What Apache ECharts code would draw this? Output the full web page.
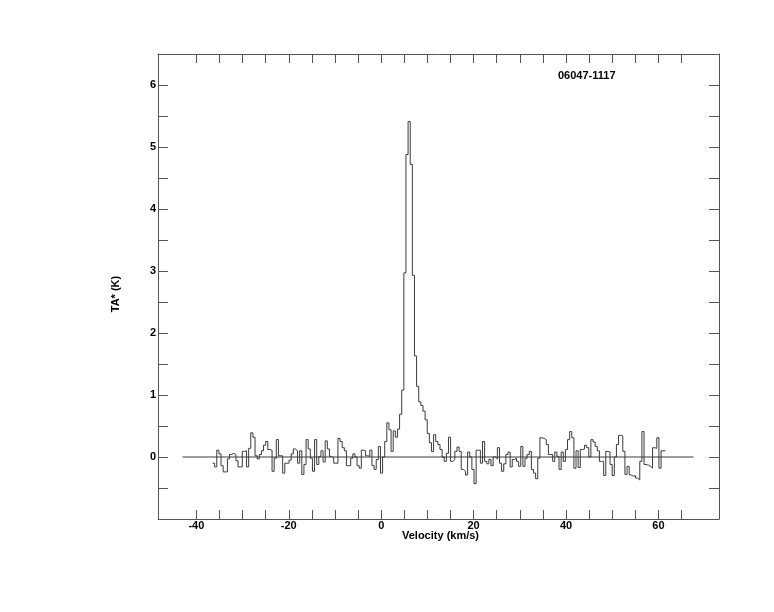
<!DOCTYPE html>
<html>
<head>
<meta charset="utf-8">
<script src="https://cdn.jsdelivr.net/npm/echarts@6/dist/echarts.min.js"></script>
<style>
html,body{margin:0;padding:0;background:#fff;}
#chart{width:774px;height:612px;}
</style>
</head>
<body>
<div id="chart"></div>
<script>
// ---- data ----
const sourceName = "06047-1117";
const xTitle = "Velocity (km/s)";
const yTitle = "TA* (K)";
const velStart = -36.5;      // left edge of first channel (km/s)
const chanWidth = 0.46;      // channel width (km/s)
const taValues = [
  -0.1, -0.16, 0.11, 0.05, -0.14, -0.24, -0.24, -0.03, 0.04, 0.06,
  0.04, -0.06, -0.16, -0.16, 0.09, 0.1, -0.16, 0.14, 0.39, 0.32,
  0.02, -0.03, 0.04, 0.1, 0.19, 0.25, 0.12, 0.11, -0.23, -0.02,
  0.28, 0.02, 0.02, -0.26, -0.1, -0.1, -0.05, 0.05, 0.13, 0.1,
  -0.1, 0.1, -0.28, -0.12, 0.28, 0.13, -0.02, -0.23, 0.28, -0.12,
  0.01, 0.1, -0.08, 0.26, 0.13, 0.01, -0.01, -0.1, -0.1, 0.3,
  0.25, 0.15, 0.1, -0.14, -0.14, -0.02, 0.05, 0.0, -0.14, -0.18,
  0.11, 0.1, 0.02, 0.01, 0.11, -0.14, -0.2, -0.04, 0.17, -0.26,
  0.0, 0.25, 0.55, 0.44, 0.09, 0.42, 0.32, 0.45, 0.69, 1.08,
  2.97, 4.88, 5.41, 4.72, 2.93, 1.63, 1.14, 0.89, 0.83, 0.74,
  0.6, 0.38, 0.23, 0.09, 0.36, 0.25, 0.2, 0.12, 0.0, -0.07,
  0.06, 0.32, -0.07, -0.04, 0.09, 0.16, 0.09, -0.2, -0.23,
  -0.29, 0.08, 0.0, -0.2, -0.43, 0.11, 0.11, -0.1, 0.25, -0.07,
  -0.11, -0.04, -0.14, 0.0, -0.03, 0.15, -0.1, -0.23, -0.11,
  0.04, 0.08, -0.16, -0.04,
  -0.02, -0.07, -0.15, 0.17,
  -0.15, -0.02, 0.04, 0.09, -0.2, -0.26, -0.35, -0.02, 0.31, 0.3,
  0.28, 0.2, 0.04, 0.04, -0.07, 0.08, 0.01, -0.2, 0.08,
  -0.07, 0.12, 0.28, 0.41, 0.31, -0.18, 0.1, -0.17, 0.12, 0.13,
  0.19, 0.15, 0.0, 0.28, 0.24, 0.17, 0.1, -0.07, -0.07,
  -0.3, 0.09, 0.08, -0.12, -0.3, 0.0, 0.2, 0.35, 0.34,
  0.09, -0.28, -0.15, -0.29, -0.31, -0.3, -0.34, -0.37, -0.07,
  0.41, -0.12, -0.13, -0.15, -0.18, 0.15, 0.14, 0.31, -0.18, 0.1, 0.1
];
const baselineX = [-43, 67.6];
const xRange = [-48.3, 73.1];
const yRange = [-1, 6.5];
const xTickValues = [-40,-35,-30,-25,-20,-15,-10,-5,0,5,10,15,20,25,30,35,40,45,50,55,60,65];
const xLabelValues = [-40,-20,0,20,40,60];
const yTickValues = [-0.5,0,0.5,1,1.5,2,2.5,3,3.5,4,4.5,5,5.5,6];
const yLabelValues = [0,1,2,3,4,5,6];

// ---- build step data (channel edges) ----
const stepData = taValues.map((v, i) => [velStart + i * chanWidth, v]);
stepData.push([velStart + taValues.length * chanWidth, taValues[taValues.length - 1]]);
const baseData = baselineX.map(x => [x, 0]);

const FONT = 'Liberation Sans, Arial, sans-serif';
const frameColor = '#555';
const lineColor = '#3a3a3a';

function xAxisDef(pos, labels) {
  return {
    type: 'value', position: pos, min: xRange[0], max: xRange[1],
    axisLine: { show: true, onZero: false, lineStyle: { color: frameColor, width: 1 } },
    axisTick: { show: true, inside: true, length: 9, customValues: xTickValues, lineStyle: { color: frameColor } },
    axisLabel: labels ? { show: true, customValues: xLabelValues, margin: 1, color: '#000', fontFamily: FONT, fontWeight: 'bold', fontSize: 11 } : { show: false },
    splitLine: { show: false }
  };
}
function yAxisDef(pos, labels) {
  return {
    type: 'value', position: pos, min: yRange[0], max: yRange[1],
    axisLine: { show: true, onZero: false, lineStyle: { color: frameColor, width: 1 } },
    axisTick: { show: true, inside: true, length: 10, customValues: yTickValues, lineStyle: { color: frameColor } },
    axisLabel: labels ? { show: true, customValues: yLabelValues, margin: 2, color: '#000', fontFamily: FONT, fontWeight: 'bold', fontSize: 11 } : { show: false },
    splitLine: { show: false }
  };
}

const chart = echarts.init(document.getElementById('chart'), null, { renderer: 'canvas' });
chart.setOption({
  animation: false,
  backgroundColor: '#fff',
  grid: { left: 158, right: 55, top: 54, bottom: 93, containLabel: false },
  xAxis: [xAxisDef('bottom', true), xAxisDef('top', false)],
  yAxis: [yAxisDef('left', true), yAxisDef('right', false)],
  series: [
    { type: 'line', data: baseData, xAxisIndex: 0, yAxisIndex: 0, symbol: 'none',
      lineStyle: { color: lineColor, width: 1 }, silent: true },
    { type: 'line', data: stepData, step: 'end', xAxisIndex: 0, yAxisIndex: 0, symbol: 'none',
      lineStyle: { color: lineColor, width: 1 }, silent: true }
  ],
  graphic: [
    { type: 'text', left: 558, top: 70, style: { text: sourceName, fill: '#000', font: 'bold 11px ' + FONT } },
    { type: 'text', left: 402, top: 530, style: { text: xTitle, fill: '#000', font: 'bold 11px ' + FONT } },
    { type: 'text', x: 116, y: 294, rotation: Math.PI / 2, style: { text: yTitle, fill: '#000', font: 'bold 11px ' + FONT, align: 'center', verticalAlign: 'middle' } }
  ]
});
</script>
</body>
</html>
